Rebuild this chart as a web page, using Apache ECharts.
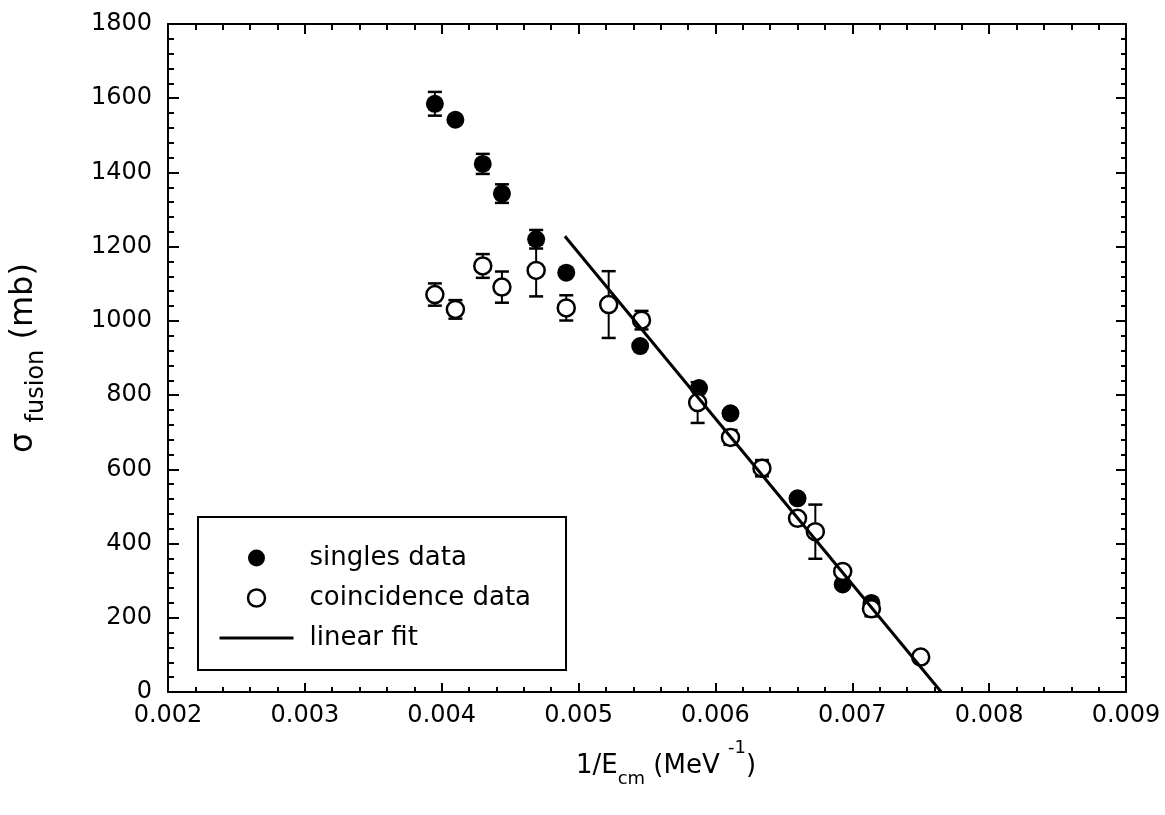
<!DOCTYPE html>
<html>
<head>
<meta charset="utf-8">
<title>fusion cross section vs 1/Ecm</title>
<script src="https://cdn.jsdelivr.net/npm/echarts@6/dist/echarts.min.js"></script>
<style>
  html, body { margin: 0; padding: 0; background: #fff; }
  #chart { width: 1165px; height: 815px; }
</style>
</head>
<body>
<div id="chart"></div>
<script>
// singles data (filled circles)
const singlesX = [0.00395, 0.0041, 0.0043, 0.00444, 0.00469, 0.00491, 0.00545, 0.00588, 0.00611, 0.0066, 0.00693, 0.00714];
const singlesY = [1585, 1542, 1423, 1343, 1220, 1130, 932, 819, 751, 522, 290, 240];
const singlesErr = [32, 0, 27, 25, 25, 0, 0, 0, 0, 0, 0, 0];

// coincidence data (open circles)
const coincX = [0.00395, 0.0041, 0.0043, 0.00444, 0.00469, 0.00491, 0.00522, 0.00546, 0.00587, 0.00611, 0.00634, 0.0066, 0.00673, 0.00693, 0.00714, 0.0075];
const coincY = [1071, 1031, 1148, 1091, 1136, 1035, 1044, 1002, 780, 686, 603, 468, 432, 325, 224, 94];
const coincErr = [30, 25, 32, 42, 70, 34, 90, 25, 55, 20, 22, 0, 73, 0, 20, 0];

// linear fit end points
const fitX = [0.0049, 0.00765];
const fitY = [1228, 0];

const font = 'DejaVu Sans';

function points(xs, ys) {
  return xs.map((x, i) => [x, ys[i]]);
}
function errorData(xs, ys, errs) {
  const out = [];
  xs.forEach((x, i) => {
    if (errs[i] > 0) out.push([x, ys[i] - errs[i], ys[i] + errs[i]]);
  });
  return out;
}

function renderErrorBar(params, api) {
  const x = api.value(0);
  const lo = api.coord([x, api.value(1)]);
  const hi = api.coord([x, api.value(2)]);
  const half = 7;
  return {
    type: 'group',
    children: [
      { type: 'line', shape: { x1: hi[0], y1: hi[1], x2: lo[0], y2: lo[1] }, style: { stroke: '#000', lineWidth: 2 } },
      { type: 'line', shape: { x1: hi[0] - half, y1: hi[1], x2: hi[0] + half, y2: hi[1] }, style: { stroke: '#000', lineWidth: 2.5 } },
      { type: 'line', shape: { x1: lo[0] - half, y1: lo[1], x2: lo[0] + half, y2: lo[1] }, style: { stroke: '#000', lineWidth: 2.5 } }
    ]
  };
}

const axisLine = { show: true, onZero: false, lineStyle: { color: '#000', width: 2 } };

const myChart = echarts.init(document.getElementById('chart'));
myChart.setOption({
  backgroundColor: '#fff',
  animation: false,
  grid: {
    left: 168,
    right: 39,
    top: 24,
    bottom: 123,
    containLabel: false,
    outerBoundsMode: 'none'
  },
  legend: {
    orient: 'vertical',
    left: 198,
    top: 517,
    padding: [28, 35, 19, 20],
    itemGap: 14,
    itemWidth: 74,
    itemHeight: 17,
    borderColor: '#000',
    borderWidth: 2,
    borderRadius: 0,
    backgroundColor: '#fff',
    selectedMode: false,
    textStyle: { fontFamily: font, fontSize: 26, color: '#000', lineHeight: 24, padding: [0, 0, 0, 11] },
    data: [
      { name: 'singles data', icon: 'circle', itemStyle: { color: '#000', borderWidth: 0, opacity: 1 } },
      { name: 'coincidence data', icon: 'circle', itemStyle: { color: '#fff', borderColor: '#000', borderWidth: 2.5, opacity: 1 } },
      { name: 'linear fit', itemStyle: { opacity: 0 }, lineStyle: { color: '#000', width: 3 } }
    ]
  },
  xAxis: [
    {
      type: 'value',
      position: 'bottom',
      min: 0.002,
      max: 0.009,
      interval: 0.001,
      name: '{n|1/E}{sub|cm}{n| (MeV }{sup|-1}{n|)}',
      nameLocation: 'middle',
      nameGap: 47,
      nameTextStyle: {
        padding: [0, 0, 0, 38],
        rich: {
          n: { fontFamily: font, fontSize: 26, color: '#000', lineHeight: 26, verticalAlign: 'top', padding: [14, 0, 0, 0] },
          sub: { fontFamily: font, fontSize: 18, color: '#000', lineHeight: 18, verticalAlign: 'top', padding: [31, 0, 0, 0] },
          sup: { fontFamily: font, fontSize: 18, color: '#000', lineHeight: 18, verticalAlign: 'top', padding: [0, 0, 0, 0] }
        }
      },
      axisLine: axisLine,
      axisTick: { show: true, inside: true, length: 9, lineStyle: { color: '#000', width: 2 } },
      minorTick: { show: true, splitNumber: 5, length: 5, lineStyle: { color: '#000', width: 2 } },
      splitLine: { show: false },
      minorSplitLine: { show: false },
      axisLabel: {
        margin: 12,
        fontFamily: font,
        fontSize: 24,
        color: '#000',
        formatter: v => v.toFixed(3)
      }
    },
    {
      type: 'value',
      position: 'top',
      min: 0.002,
      max: 0.009,
      interval: 0.001,
      axisLine: axisLine,
      axisTick: { show: true, inside: true, length: 10, lineStyle: { color: '#000', width: 2 } },
      minorTick: { show: true, splitNumber: 5, length: 6, lineStyle: { color: '#000', width: 2 } },
      splitLine: { show: false },
      axisLabel: { show: false }
    }
  ],
  yAxis: [
    {
      type: 'value',
      position: 'left',
      min: 0,
      max: 1800,
      interval: 200,
      name: '{n|σ }{sub|fusion}{n| (mb)}',
      nameLocation: 'middle',
      nameRotate: 90,
      nameGap: 130,
      nameTextStyle: {
        rich: {
          n: { fontFamily: font, fontSize: 32, color: '#000', lineHeight: 32, verticalAlign: 'top', padding: [2, 0, 0, 0] },
          sub: { fontFamily: font, fontSize: 24, color: '#000', lineHeight: 24, verticalAlign: 'top', padding: [19, 0, 0, 0] }
        }
      },
      axisLine: axisLine,
      axisTick: { show: true, inside: true, length: 11, lineStyle: { color: '#000', width: 2 } },
      minorTick: { show: true, splitNumber: 5, length: 6, lineStyle: { color: '#000', width: 2 } },
      splitLine: { show: false },
      minorSplitLine: { show: false },
      axisLabel: { margin: 16, fontFamily: font, fontSize: 24, color: '#000', formatter: v => String(v) }
    },
    {
      type: 'value',
      position: 'right',
      min: 0,
      max: 1800,
      interval: 200,
      axisLine: axisLine,
      axisTick: { show: true, inside: true, length: 10, lineStyle: { color: '#000', width: 2 } },
      minorTick: { show: true, splitNumber: 5, length: 5, lineStyle: { color: '#000', width: 2 } },
      splitLine: { show: false },
      axisLabel: { show: false }
    }
  ],
  series: [
    {
      name: 'singles errors',
      type: 'custom',
      renderItem: renderErrorBar,
      encode: { x: 0, y: [1, 2] },
      data: errorData(singlesX, singlesY, singlesErr),
      z: 1,
      silent: true
    },
    {
      name: 'coincidence errors',
      type: 'custom',
      renderItem: renderErrorBar,
      encode: { x: 0, y: [1, 2] },
      data: errorData(coincX, coincY, coincErr),
      z: 1,
      silent: true
    },
    {
      name: 'singles data',
      type: 'scatter',
      symbol: 'circle',
      symbolSize: 18,
      itemStyle: { color: '#000', opacity: 1 },
      data: points(singlesX, singlesY),
      z: 2
    },
    {
      name: 'coincidence data',
      type: 'scatter',
      symbol: 'circle',
      symbolSize: 17,
      itemStyle: { color: '#fff', borderColor: '#000', borderWidth: 2.5, opacity: 1 },
      data: points(coincX, coincY),
      z: 3
    },
    {
      name: 'linear fit',
      type: 'line',
      symbol: 'none',
      showSymbol: false,
      lineStyle: { color: '#000', width: 3 },
      itemStyle: { color: '#000' },
      data: points(fitX, fitY),
      z: 4
    }
  ]
});
</script>
</body>
</html>
